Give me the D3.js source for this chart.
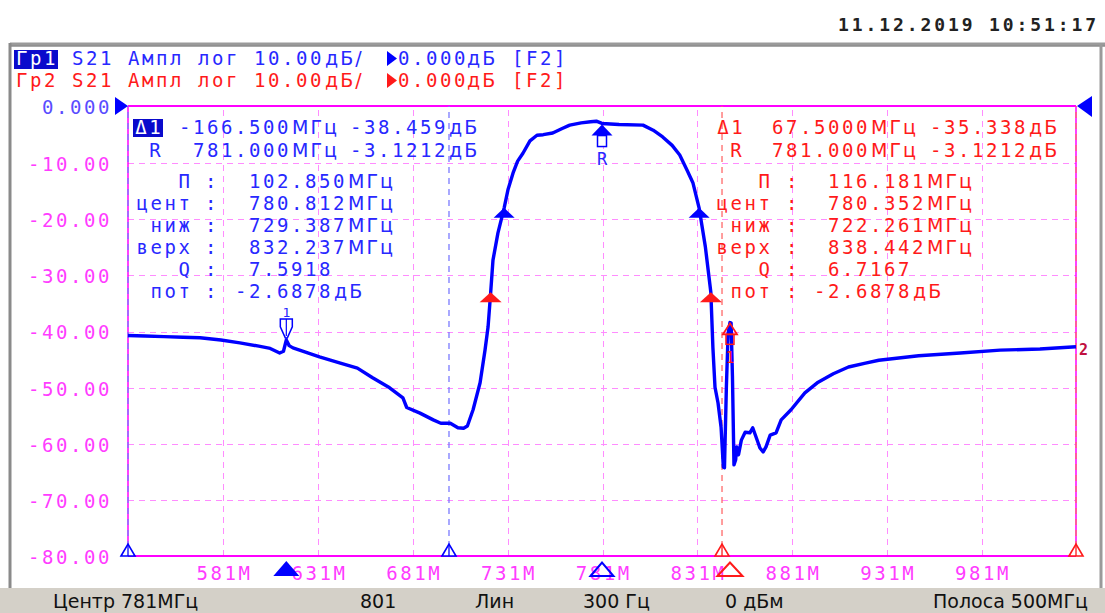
<!DOCTYPE html>
<html><head><meta charset="utf-8">
<script src="https://cdn.jsdelivr.net/npm/d3@7"></script>
<style>
html,body{margin:0;padding:0;background:#fff;}
svg{display:block;}
</style></head><body>
<svg id="c" width="1105" height="613"></svg>
<script>
// ---------- data ----------
const freqsMHz = [531,540,550,560,569,580,590,600,606,611,613,614.5,616,618,625,632,643,652,660,669,676,678,685,692,696,701,705,708,710,713,716.7,719.3,720.9,722.3,723.5,726.1,729.4,731.4,734.1,736.5,739.3,743,746.7,750,755,760,764,770,775,778,781,790,802.6,808,813,818,822,826,829,832.2,835.5,838.4,839.5,840.6,842.2,843.8,845.0,845.6,846.6,847.5,848.5,849.1,849.8,850.6,851.5,852.0,853.0,854.5,856.5,859,860.5,862.2,864.3,866,867.5,869.7,872.8,875.5,880.7,888,895,903,911,920,927,948,970,991,1012,1031];
const s21dB = [-40.8,-40.9,-41.0,-41.1,-41.2,-41.6,-42.1,-42.7,-43.1,-43.9,-43.6,-41.6,-42.6,-43.0,-43.8,-44.6,-45.7,-46.6,-48.3,-50.1,-51.9,-53.6,-54.6,-55.8,-56.4,-56.4,-57.2,-57.3,-56.9,-54.0,-49.2,-43.4,-39.3,-33.1,-27.4,-22.6,-18.1,-14.9,-11.9,-9.8,-8.4,-6.2,-5.2,-5.1,-4.8,-4.0,-3.4,-3.0,-2.8,-2.7,-3.1,-3.3,-3.4,-4.3,-5.5,-7.0,-8.7,-11.5,-13.7,-18.1,-25.0,-33.1,-43.0,-50.0,-52.8,-57.1,-64.2,-64.3,-50.0,-40.5,-38.5,-38.6,-48.0,-63.8,-62.9,-60.6,-62.0,-59.4,-58.0,-58.1,-57.2,-58.8,-60.8,-61.5,-60.6,-58.5,-58.1,-55.8,-54.0,-51.0,-49.1,-47.6,-46.4,-45.7,-45.2,-44.4,-43.9,-43.4,-43.2,-42.8];

const xTickValues = [581,631,681,731,781,831,881,931,981];
const xTickLabels = ["581M","631M","681M","731M","781M","831M","881M","931M","981M"];
const yTickValues = [0,-10,-20,-30,-40,-50,-60,-70,-80];
const yTickLabels = ["0.000","-10.00","-20.00","-30.00","-40.00","-50.00","-60.00","-70.00","-80.00"];

const headerRows = [
  {tag:"Гр1", text:"S21 Ампл лог 10.00", unit:"дБ/", ref:"0.000", refUnit:"дБ", fmt:"[F2]"},
  {tag:"Гр2", text:"S21 Ампл лог 10.00", unit:"дБ/", ref:"0.000", refUnit:"дБ", fmt:"[F2]"}
];
const dateText = "11.12.2019 10:51:17";

const leftMarkerRows  = [{tag:"Δ1", freq:"-166.500", level:"-38.459"}, {tag:"R", freq:"781.000", level:"-3.1212"}];
const rightMarkerRows = [{tag:"Δ1", freq:"67.5000", level:"-35.338"}, {tag:"R", freq:"781.000", level:"-3.1212"}];
const statLabels = ["П","цент","ниж","верх","Q","пот"];
const statUnits  = ["МГц","МГц","МГц","МГц","","дБ"];
const leftStatValues  = ["102.850","780.812","729.387","832.237","7.5918","-2.6878"];
const rightStatValues = ["116.181","780.352","722.261","838.442","6.7167","-2.6878"];

// marker positions (MHz / dB)
const trace1Marker1 = {f:614.5, v:-41.58};
const refMarker     = {f:781.0, v:-3.12};
const trace2Marker1 = {f:848.5, v:-38.46};
const trace1BW = [{f:729.387, v:-18.1},{f:832.237, v:-18.1}];
const trace2BW = [{f:722.261, v:-33.1},{f:838.442, v:-33.1}];
const blueStimLines = [531, 700.3];
const redStimLines  = [844.3, 1031];

const statusItems = [
  {t:"Центр 781МГц", x:53}, {t:"801", x:360}, {t:"Лин", x:475},
  {t:"300 Гц", x:583}, {t:"0 дБм", x:725}, {t:"Полоса 500МГц", x:933}
];

// ---------- setup ----------
const svg = d3.select("#c");
const L=128, R=1076, T=106, B=556;
const x = d3.scaleLinear().domain([531,1031]).range([L,R]);
const y = d3.scaleLinear().domain([-80,0]).range([B,T]);

const BLUE="#0000ff", TBLUE="#2828ff", RED="#ff1a1a", MAG="#ff00ff", GRID="#ff8cff";
const MONO="'DejaVu Sans Mono', monospace", SANS="'DejaVu Sans', sans-serif";
const FS=19, LS=2.56, PITCH=14;

function mono(g, xx, yy, str, color){
  return g.append("text").attr("x",xx).attr("y",yy).text(str)
    .attr("font-family",MONO).attr("font-size",FS).style("letter-spacing",LS+"px")
    .attr("fill",color);
}
function unit(g, xx, yy, str, color){
  return g.append("text").attr("x",xx).attr("y",yy).text(str)
    .attr("font-family",SANS).attr("font-size",19).style("letter-spacing","2px")
    .attr("fill",color);
}
const monoW = s => s.length*PITCH - LS;

// ---------- window frame ----------
svg.append("rect").attr("x",0).attr("y",588).attr("width",1105).attr("height",25).attr("fill","#d4d0c8");
svg.append("line").attr("x1",10).attr("x2",1105).attr("y1",44).attr("y2",44).attr("stroke","#9a9a9a").attr("stroke-width",3);
svg.append("line").attr("x1",10).attr("x2",1105).attr("y1",46).attr("y2",46).attr("stroke","#555").attr("stroke-width",1);
svg.append("line").attr("x1",10).attr("x2",10).attr("y1",43).attr("y2",588).attr("stroke","#8a8a8a").attr("stroke-width",3);
svg.append("line").attr("x1",1101).attr("x2",1101).attr("y1",43).attr("y2",588).attr("stroke","#9a9a9a").attr("stroke-width",3);

// date
mono(svg, 838, 31, dateText, "#222").attr("font-size",18).style("letter-spacing","2.9px").attr("font-weight","bold");

// ---------- header ----------
headerRows.forEach((h,i)=>{
  const by = 65 + i*22;
  const col = i===0 ? TBLUE : RED;
  if(i===0){
    svg.append("rect").attr("x",14).attr("y",by-15).attr("width",44).attr("height",19).attr("fill","#0a0acc");
    mono(svg, 16, by, h.tag, "#fff");
  } else {
    mono(svg, 16, by, h.tag, col);
  }
  mono(svg, 16+4*PITCH, by, h.text, col);
  unit(svg, 325, by, h.unit, col);
  svg.append("polygon").attr("points",`387,${by-14} 397,${by-6.5} 387,${by+1}`).attr("fill", i===0?BLUE:RED);
  mono(svg, 398, by, h.ref, col);
  unit(svg, 467, by, h.refUnit, col);
  mono(svg, 512, by, h.fmt, col);
});

// ---------- grid via axes ----------
const gridX = svg.append("g").attr("transform",`translate(0.5,${B})`)
  .call(d3.axisBottom(x).tickValues(xTickValues).tickSize(-(B-T)).tickFormat(""));
gridX.select(".domain").remove();
gridX.selectAll("line").attr("stroke",GRID).attr("stroke-dasharray","6,5").attr("stroke-width",1).attr("shape-rendering","crispEdges");

const gridY = svg.append("g").attr("transform",`translate(${L},0.5)`)
  .call(d3.axisLeft(y).tickValues(yTickValues.slice(1,-1)).tickSize(-(R-L)).tickFormat(""));
gridY.select(".domain").remove();
gridY.selectAll("line").attr("stroke",GRID).attr("stroke-dasharray","6,5").attr("stroke-width",1).attr("shape-rendering","crispEdges");

// plot frame
svg.append("line").attr("x1",L).attr("x2",R).attr("y1",T).attr("y2",T).attr("stroke",MAG).attr("stroke-width",2);
svg.append("line").attr("x1",L).attr("x2",R).attr("y1",B).attr("y2",B).attr("stroke",MAG).attr("stroke-width",2);
[L,R].forEach(xx=>{
  svg.append("line").attr("x1",xx).attr("x2",xx).attr("y1",T).attr("y2",B).attr("stroke",MAG).attr("stroke-width",1.5);
});

// stimulus marker lines
blueStimLines.forEach(f=>{
  svg.append("line").attr("x1",x(f)).attr("x2",x(f)).attr("y1",T).attr("y2",B)
    .attr("stroke","#7a7aff").attr("stroke-width",1.3).attr("stroke-dasharray","6,5").attr("stroke-dashoffset",5);
});
redStimLines.forEach(f=>{
  svg.append("line").attr("x1",x(f)).attr("x2",x(f)).attr("y1",T).attr("y2",B)
    .attr("stroke","#ff6a6a").attr("stroke-width",1.3).attr("stroke-dasharray","6,5").attr("stroke-dashoffset",5);
});

// ---------- axis labels ----------
const ax = svg.append("g").attr("transform",`translate(${L},0)`)
  .call(d3.axisLeft(y).tickValues(yTickValues).tickSize(0).tickPadding(16).tickFormat((d,i)=>yTickLabels[i]));
ax.select(".domain").remove();
ax.selectAll("line").remove();
ax.selectAll("text").attr("font-family",MONO).attr("font-size",FS).style("letter-spacing",LS+"px")
  .attr("fill",(d,i)=> i===0 ? "#5a4cff" : "#ff3cff").attr("dy","0.42em");

const bx = svg.append("g").attr("transform",`translate(0,${B})`)
  .call(d3.axisBottom(x).tickValues(xTickValues).tickSize(0).tickPadding(8).tickFormat((d,i)=>xTickLabels[i]));
bx.select(".domain").remove();
bx.selectAll("line").remove();
bx.selectAll("text").attr("font-family",MONO).attr("font-size",FS).style("letter-spacing",LS+"px")
  .attr("fill","#ff3cff").attr("dx",(LS/2)+"px").attr("dy","0.82em");

// reference level triangles
svg.append("polygon").attr("points",`115,97 128,106 115,115`).attr("fill",BLUE);
svg.append("polygon").attr("points",`1092,96 1077,106 1092,117`).attr("fill",BLUE);

// ---------- trace ----------
const pts = freqsMHz.map((f,i)=>({f, v:s21dB[i]}));
const line = d3.line().x(d=>x(d.f)).y(d=>y(d.v));
svg.append("path").datum(pts).attr("d",line).attr("fill","none")
  .attr("stroke",BLUE).attr("stroke-width",3.4).attr("stroke-linejoin","round");

// ---------- markers on trace ----------
function upTri(cx, cy, hw, h, fill, stroke){
  return svg.append("polygon").attr("points",`${cx-hw},${cy+h} ${cx},${cy} ${cx+hw},${cy+h}`)
    .attr("fill",fill||"none").attr("stroke",stroke||"none").attr("stroke-width",stroke?1.8:0);
}
trace1BW.forEach(m=> upTri(x(m.f), y(m.v), 10.5, 10, BLUE));
trace2BW.forEach(m=> upTri(x(m.f), y(m.v), 11, 10, RED));

// trace1 marker 1 (open, pointing down, label above)
{
  const mx=x(trace1Marker1.f), my=y(trace1Marker1.v);
  svg.append("polygon").attr("points",`${mx-6},${my-21} ${mx+6},${my-21} ${mx+6},${my-13} ${mx+1},${my-2} ${mx-1},${my-2} ${mx-6},${my-13}`)
    .attr("fill","#fff").attr("stroke",BLUE).attr("stroke-width",1.5);
  svg.append("line").attr("x1",mx).attr("x2",mx).attr("y1",my-21).attr("y2",my-4).attr("stroke",BLUE).attr("stroke-width",1.2);
  svg.append("text").attr("x",mx).attr("y",my-23).attr("text-anchor","middle").text("1")
    .attr("font-family",MONO).attr("font-size",13).attr("fill",TBLUE);
}
// reference marker R
{
  const mx=x(refMarker.f), my=y(refMarker.v);
  upTri(mx, my+1, 10.5, 11, BLUE);
  svg.append("rect").attr("x",mx-4.5).attr("y",my+12).attr("width",9).attr("height",11)
    .attr("fill","#fff").attr("stroke",BLUE).attr("stroke-width",1.5);
  svg.append("text").attr("x",mx).attr("y",my+41).attr("text-anchor","middle").text("R")
    .attr("font-family",MONO).attr("font-size",17).attr("fill",TBLUE);
}
// trace2 marker 1
{
  const mx=x(trace2Marker1.f), my=y(trace2Marker1.v);
  upTri(mx, my+1, 7, 11, "none", RED);
  svg.append("rect").attr("x",mx-4).attr("y",my+12).attr("width",8).attr("height",10)
    .attr("fill","none").attr("stroke",RED).attr("stroke-width",1.5);
  svg.append("text").attr("x",mx).attr("y",my+41).attr("text-anchor","middle").text("1")
    .attr("font-family",MONO).attr("font-size",15).attr("fill",RED);
}
// marker 2 label at right edge
svg.append("text").attr("x",1079).attr("y",355).text("2").attr("font-family",MONO).attr("font-size",15).attr("fill","#c01040").attr("font-weight","bold");

// ---------- stimulus indicators on / under the axis ----------
function stimTri(f, color){
  const sx=x(f);
  svg.append("polygon").attr("points",`${sx-7},${B} ${sx},${B-12} ${sx+7},${B}`)
    .attr("fill","#fff").attr("stroke",color).attr("stroke-width",1.6);
  svg.append("line").attr("x1",sx).attr("x2",sx).attr("y1",B-12).attr("y2",B).attr("stroke",color).attr("stroke-width",1.3);
}
blueStimLines.forEach(f=>stimTri(f,BLUE));
redStimLines.forEach(f=>stimTri(f,RED));

upTri(x(trace1Marker1.f), 561, 13, 15, BLUE);
upTri(x(refMarker.f), 562.5, 11.5, 13.5, "none", BLUE).attr("stroke-width",2);
upTri(x(trace2Marker1.f), 562.5, 12.5, 13.5, "none", RED).attr("stroke-width",2);

// ---------- annotation blocks ----------
function markerBlock(rows, cfg){
  rows.forEach((r,i)=>{
    const by = 134 + i*23;
    if(i===0){
      if(cfg.boxTag){
        svg.append("rect").attr("x",cfg.tagX-15).attr("y",by-15).attr("width",30).attr("height",18).attr("fill","#0a0acc");
        mono(svg, cfg.tagX, by, r.tag, "#fff").attr("text-anchor","middle").attr("dx",(LS/2)+"px");
      } else {
        mono(svg, cfg.tagX, by, r.tag, cfg.color).attr("text-anchor","middle").attr("dx",(LS/2)+"px");
      }
    } else {
      mono(svg, cfg.rX, by, r.tag, cfg.color).attr("text-anchor","middle").attr("dx",(LS/2)+"px");
    }
    const fx = r.freq[0]==="-" ? cfg.freqX - PITCH : cfg.freqX;
    mono(svg, fx, by, r.freq, cfg.color);
    unit(svg, fx + r.freq.length*PITCH + 1, by, "МГц", cfg.color);
    mono(svg, cfg.levelX, by, r.level, cfg.color);
    unit(svg, cfg.levelX + r.level.length*PITCH + 1, by, "дБ", cfg.color);
  });
}
function statBlock(values, cfg){
  values.forEach((v,i)=>{
    const by = 188 + i*22;
    const lab = statLabels[i];
    mono(svg, cfg.labelRight - monoW(lab), by, lab, cfg.color);
    mono(svg, cfg.colonX, by, ":", cfg.color);
    const vx = v[0]==="-" ? cfg.valueX - PITCH : cfg.valueX;
    mono(svg, vx, by, v, cfg.color);
    if(statUnits[i]) unit(svg, vx + v.length*PITCH + 1, by, statUnits[i], cfg.color);
  });
}
markerBlock(leftMarkerRows,  {color:TBLUE, boxTag:true,  tagX:148, rX:155, freqX:193, levelX:350});
markerBlock(rightMarkerRows, {color:RED,   boxTag:false, tagX:730, rX:736, freqX:772, levelX:930});
statBlock(leftStatValues,  {color:TBLUE, labelRight:190, colonX:205, valueX:249});
statBlock(rightStatValues, {color:RED,   labelRight:770, colonX:786, valueX:828});

// ---------- status bar ----------
statusItems.forEach(s=>{
  svg.append("text").attr("x",s.x).attr("y",608).text(s.t)
    .attr("font-family",SANS).attr("font-size",19).attr("fill","#111");
});
</script>
</body></html>
